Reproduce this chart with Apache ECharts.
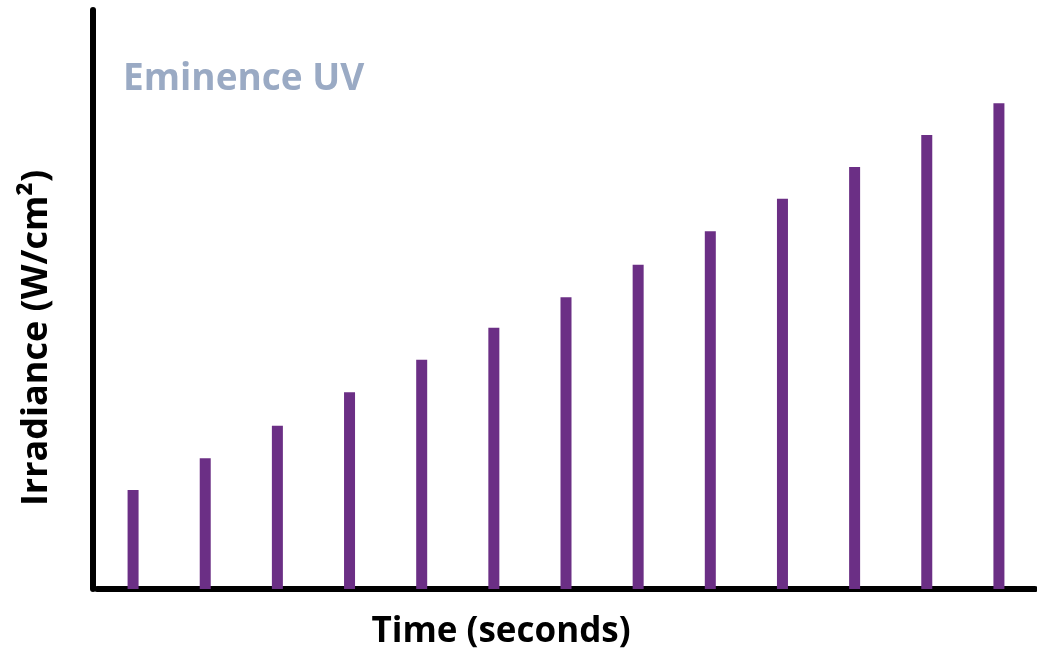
<!DOCTYPE html>
<html>
<head>
<meta charset="utf-8">
<script src="https://cdn.jsdelivr.net/npm/echarts@6/dist/echarts.min.js"></script>
<style>
  html, body { margin: 0; padding: 0; background: #fff; }
  #chart { width: 1037px; height: 654px; }
</style>
</head>
<body>
<div id="chart"></div>
<script>
// time steps (no labels shown in the original)
var timeSteps = ['1', '2', '3', '4', '5', '6', '7', '8', '9', '10', '11', '12', '13'];
// irradiance, relative units (axis has no ticks)
var irradiance = [17.1, 22.6, 28.2, 34.0, 39.6, 45.1, 50.4, 56.0, 61.8, 67.4, 72.9, 78.4, 83.9];

var chart = echarts.init(document.getElementById('chart'));

chart.setOption({
  animation: false,
  backgroundColor: '#fff',
  grid: {
    left: 97,
    right: 2,
    top: 10,
    bottom: 65
  },
  xAxis: {
    type: 'category',
    data: timeSteps,
    axisLine: {
      lineStyle: { color: '#000', width: 6 }
    },
    axisTick: { show: false },
    axisLabel: { show: false }
  },
  yAxis: {
    type: 'value',
    min: 0,
    max: 100,
    offset: 4,
    axisLine: {
      show: true,
      lineStyle: { color: '#000', width: 6 }
    },
    axisTick: { show: false },
    axisLabel: { show: false },
    splitLine: { show: false }
  },
  series: [{
    type: 'bar',
    data: irradiance,
    barWidth: 11,
    itemStyle: { color: '#6B2F85' }
  }],
  graphic: [
    {
      type: 'text',
      left: 123,
      top: 61,
      style: {
        text: 'Eminence UV',
        font: 'bold 37px "Open Sans"',
        fill: '#9AAAC4'
      }
    },
    {
      type: 'text',
      x: 501,
      y: 632,
      style: {
        text: 'Time (seconds)',
        font: 'bold 35px "Open Sans"',
        fill: '#000',
        align: 'center',
        verticalAlign: 'middle'
      }
    },
    {
      type: 'text',
      x: 37,
      y: 338,
      rotation: Math.PI / 2,
      style: {
        text: 'Irradiance (W/cm²)',
        font: 'bold 36px "Open Sans"',
        fill: '#000',
        align: 'center',
        verticalAlign: 'middle'
      }
    }
  ]
});
</script>
</body>
</html>
